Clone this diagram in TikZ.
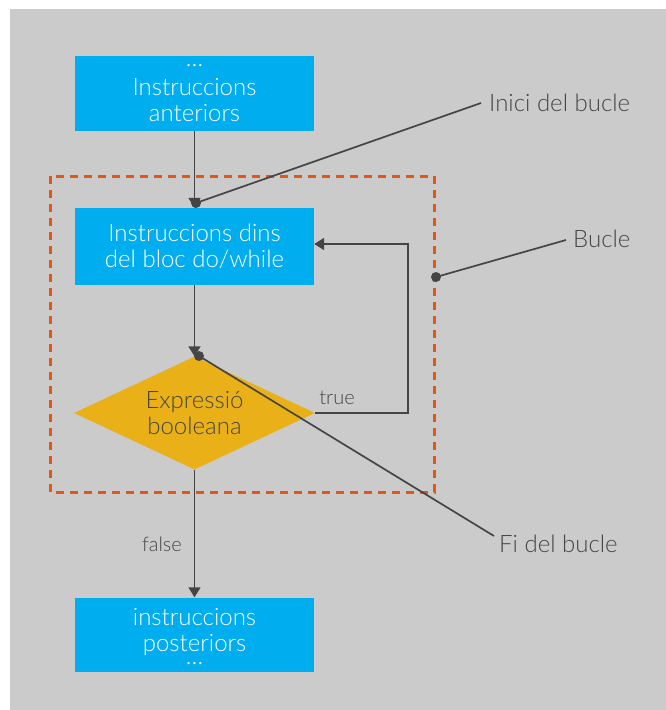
\documentclass[tikz,border=0pt]{standalone}
\usepackage{fontspec}
\setmainfont{Lato Light}
\usetikzlibrary{shapes.geometric,arrows.meta}
\definecolor{bggray}{HTML}{CBCBCB}
\definecolor{boxblue}{HTML}{00AEEF}
\definecolor{diamondyellow}{HTML}{E9B117}
\definecolor{loopred}{HTML}{E2561A}
\definecolor{ink}{HTML}{454545}
\tikzset{
  stepbox/.style={draw=none, fill=boxblue, text=white, minimum width=239pt,
    inner sep=0pt, align=center, font=\fontsize{24}{26}\selectfont},
  steptext/.style={text=white, inner sep=0pt, align=center,
    font=\fontsize{24}{26}\selectfont},
  ellipsis/.style={text=white, inner sep=0pt, font=\fontsize{24}{26}\selectfont},
  testbox/.style={shape=diamond, fill=diamondyellow, text=ink, inner sep=0pt,
    aspect=2.13, minimum width=241pt, minimum height=113pt, align=center,
    font=\fontsize{24}{26}\selectfont},
  flow/.style={draw=ink, line width=1.7pt, -{Triangle[width=12pt,length=10pt]}},
  pointer/.style={draw=ink, line width=1.7pt},
  calloutdot/.style={fill=ink},
  callout/.style={text=ink, anchor=west, inner sep=0pt, font=\fontsize{24}{26}\selectfont},
  edgelabel/.style={text=ink, inner sep=0pt, font=\fontsize{20}{22}\selectfont},
  loopframe/.style={draw=loopred, line width=3pt, dash pattern=on 8pt off 6pt}
}
\begin{document}
\begin{tikzpicture}[x=1pt,y=-1pt]
  % canvas
  \useasboundingbox (0,0) rectangle (666,710);
  \fill[white] (0,0) rectangle (666,710);
  \fill[bggray] (10,9) rectangle (666,710);

  % loop frame
  \draw[loopframe] (50,176) rectangle (434,492);

  % flow chart blocks
  \node[stepbox, minimum height=75pt] (prev) at (194.5,93.5) {};
  \node[ellipsis] (prevdots) at (194.5,66) {\dots};
  \node[steptext] (prevtext) at (194.5,100) {Instruccions\\anteriors};
  \node[stepbox, minimum height=77pt] (body) at (194.5,246.5)
    {Instruccions dins\\del bloc do/while};
  \node[testbox] (test) at (194.5,413) {Expressió\\booleana};
  \node[stepbox, minimum height=74pt] (next) at (194.5,634.5) {};
  \node[steptext] (nexttext) at (194.5,632) {instruccions\\posteriors};
  \node[ellipsis] (nextdots) at (194.5,664) {\dots};

  % connectors
  \draw[flow] (prev.south) -- (body.north);
  \draw[flow] (body.south) -- (test.north);
  \coordinate (turnA) at (408,413);
  \coordinate (turnB) at (408,244);
  \draw[flow] (test.east) -- (turnA) -- (turnB) -- (turnB -| body.east);
  \draw[flow] (test.south) -- (next.north);
  \node[edgelabel] (truelbl) at (337,398) {true};
  \node[edgelabel] (falselbl) at (162,544) {false};

  % callouts
  \coordinate (dotStart) at (196,203);
  \coordinate (dotEnd) at (199,356);
  \coordinate (dotLoop) at (436,277);
  \node[callout] (lblStart) at (489,103) {Inici del bucle};
  \node[callout] (lblLoop) at (573,239) {Bucle};
  \node[callout] (lblEnd) at (499,544) {Fi del bucle};
  \coordinate (endStart) at (481,103);
  \coordinate (endLoop) at (566,240);
  \coordinate (endEnd) at (494,536);
  \draw[pointer] (dotStart) -- (endStart);
  \draw[pointer] (dotLoop) -- (endLoop);
  \draw[pointer] (dotEnd) -- (endEnd);
  \fill[calloutdot] (dotStart) circle (5pt);
  \fill[calloutdot] (dotEnd) circle (5pt);
  \fill[calloutdot] (dotLoop) circle (5pt);
\end{tikzpicture}
\end{document}
